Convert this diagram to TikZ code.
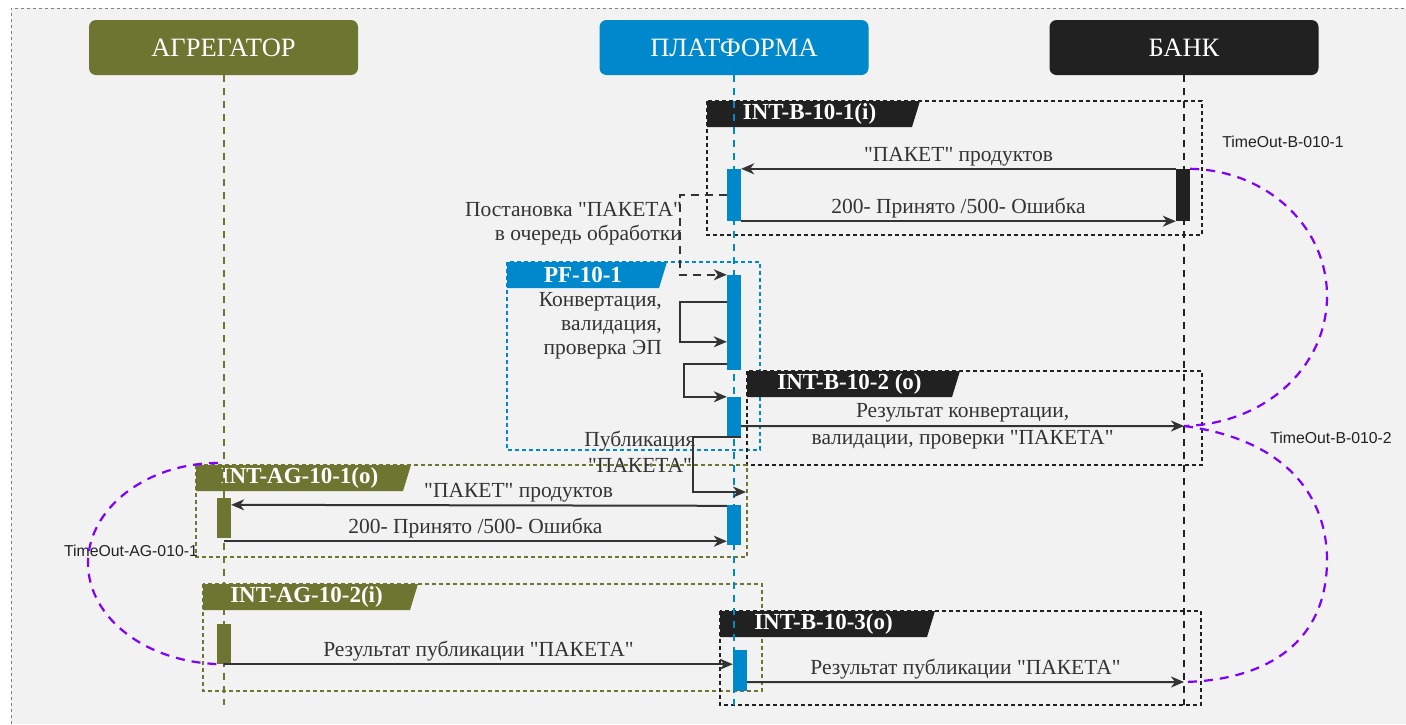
\documentclass[tikz,border=0pt]{standalone}
\usepackage{fontspec}
\setmainfont{Liberation Serif}
\setsansfont{Liberation Sans}
\usetikzlibrary{calc}
\usetikzlibrary{positioning}
\usetikzlibrary{arrows.meta}

\definecolor{aggc}{HTML}{6D7530}
\definecolor{platc}{HTML}{0088CC}
\definecolor{bankc}{HTML}{212121}
\definecolor{tmoc}{HTML}{7F00FF}
\definecolor{txtc}{HTML}{333333}
\definecolor{bgc}{HTML}{F2F2F2}
\newcommand{\qm}{\textquotedbl}

\tikzset{
  head/.style={rounded corners=7pt, minimum width=269pt, minimum height=55pt, text=white, font=\fontsize{26.5}{30}\selectfont},
  life/.style={line width=2pt, dash pattern=on 7pt off 6pt},
  act/.style={minimum width=14pt, inner sep=0pt},
  msg/.style={line width=2pt, draw=txtc, -{Stealth[length=13pt,width=11pt,inset=4pt]}},
  lbl/.style={text=txtc, font=\fontsize{21.5}{24}\selectfont, inner sep=0pt},
  frame/.style={line width=1.3pt, dash pattern=on 4pt off 3pt},
  tag/.style={text=white, font=\bfseries\fontsize{23}{26}\selectfont, inner sep=0pt},
  tmo/.style={draw=tmoc, line width=2.2pt, dash pattern=on 9pt off 7pt},
  tmolbl/.style={text=bankc, font=\sffamily\fontsize{15.8}{18}\selectfont, inner sep=0pt}
}

\begin{document}
\begin{tikzpicture}[x=1pt, y=-1pt]
  \useasboundingbox (0,0) rectangle (1406,724);
  \fill [white] (0,0) rectangle (1406,724);
  \fill [bgc] (11,8) rectangle (1406,724);
  \draw [gray, dashed] (11,724) -- (11,8) -- (1406,8);

  % fragments
  \foreach \xa/\ya/\xb/\yb/\tw/\cl/\txt/\nm in {
      707/101/1202/235/213/bankc/INT-B-10-1(i)/b1,
      507/262/760/450/160/platc/PF-10-1/pf,
      747/371/1202/465/213/bankc/INT-B-10-2 (o)/b2,
      196/465/747/557/215/aggc/INT-AG-10-1(o)/ag1,
      203/584/762/691/215/aggc/INT-AG-10-2(i)/ag2,
      720/611/1201/705/215/bankc/INT-B-10-3(o)/b3} {
    \draw [frame, \cl] (\xa,\ya) rectangle (\xb,\yb);
    \fill [\cl] (\xa,\ya) -- ++(\tw,0) -- ++(-8,26) -- (\xa,\ya+26) -- cycle;
    \node [tag] (tag\nm) at (\xa+\tw/2-4, \ya+13) {\txt};
  }

  % participants
  \node [head, fill=aggc] (agr) at (223.5,47.5) {АГРЕГАТОР};
  \node [head, fill=platc] (plat) at (734,47.5) {ПЛАТФОРМА};
  \node [head, fill=bankc] (bank) at (1184,47.5) {БАНК};
  \coordinate (bot) at (0,705);
  \draw [life, aggc] (agr.south) -- (agr.south |- bot);
  \draw [life, platc] (plat.south) -- (plat.south |- bot);
  \draw [life, bankc] (bank.south) -- (bank.south |- bot);

  % activations
  \node [act, fill=platc, minimum height=52pt] (pa1) at (734,195) {};
  \node [act, fill=bankc, minimum height=52pt] (ba1) at (1183,195) {};
  \node [act, fill=platc, minimum height=95pt] (pa2) at (734,322.5) {};
  \node [act, fill=platc, minimum height=40pt] (pa3) at (734,417) {};
  \node [act, fill=platc, minimum height=40pt] (pa4) at (734,525) {};
  \node [act, fill=aggc, minimum height=40pt] (aa1) at (224,518) {};
  \node [act, fill=aggc, minimum height=40pt] (aa2) at (224,644) {};
  \node [act, fill=platc, minimum height=41pt] (pa5) at (740,670.5) {};

  \coordinate (bt2) at (1184,426);
  \coordinate (bt3) at (1184,682);
  \coordinate (pub) at (746,492);
  \coordinate (ag0) at (218,463);

  % messages
  \draw [msg] (ba1.north west) -- node [lbl, midway, above=2pt] (m1) {\qm ПАКЕТ\qm{} продуктов} (pa1.north east);
  \draw [msg] (pa1.south east) -- node [lbl, midway, above=2pt] (m2) {200- Принято /500- Ошибка} (ba1.south west);
  \draw [msg, dash pattern=on 8pt off 6pt] (pa1.west) -- ++(-47,0) |- (pa2.north west);
  \node [lbl, anchor=east, align=right] (lq) at (682,224) {Постановка \qm ПАКЕТА\qm\\в очередь обработки};
  \draw [msg] ($(pa2.north west)+(0,27)$) -- ++(-47,0) |- ($(pa2.north west)+(0,67)$);
  \node [lbl, anchor=east, align=right] (lconv) at (662,326) {Конвертация,\\валидация,\\проверка ЭП};
  \draw [msg] ($(pa2.south west)+(0,-6)$) -- ++(-43,0) |- (pa3.north west);
  \draw [msg] ($(pa3.south east)+(0,-11)$) -- node [lbl, midway, align=center] (m3) {Результат конвертации,\\[3pt]валидации, проверки \qm ПАКЕТА\qm} (bt2);
  \draw [msg] (pa3.south east) -- ++(-48,0) |- (pub);
  \node [lbl, align=center, font=\fontsize{21.5}{26}\selectfont] (lpub) at (640,452) {Публикация\\\qm ПАКЕТА\qm};
  \draw [msg] ($(pa4.north west)+(0,1)$) -- node [lbl, pos=0.42, above=2pt] (m4) {\qm ПАКЕТ\qm{} продуктов} (aa1.east |- pa4.north west);
  \draw [msg] ($(aa1.south)+(0,3)$) -- node [lbl, midway, above=2pt] (m5) {200- Принято /500- Ошибка} ($(pa4.south west)+(0,-4)$);
  \draw [msg] (aa2.south) -- node [lbl, midway, above=2pt] (m6) {Результат публикации \qm ПАКЕТА\qm} (pa5.west |- aa2.south);
  \draw [msg] ($(pa5.south east)+(0,-9)$) -- node [lbl, midway, above=2pt] (m7) {Результат публикации \qm ПАКЕТА\qm} (bt3);

  % timeouts
  \node [tmolbl] (t1) at (1283,142) {TimeOut-B-010-1};
  \node [tmolbl] (t2) at (1331,438) {TimeOut-B-010-2};
  \node [tmolbl] (t3) at (131,551) {TimeOut-AG-010-1};
  \draw [tmo] (ba1.north east) .. controls (1266,170) and (1327,226) .. (1327,296) .. controls (1327,366) and (1266,424) .. (bt2);
  \draw [tmo] (bt2) .. controls (1290,440) and (1327,500) .. (1327,560) .. controls (1327,640) and (1270,680) .. (bt3);
  \draw [tmo] (ag0) .. controls (147,463) and (88,508) .. (88,563) .. controls (88,618) and (147,664) .. (aa2.south);
\end{tikzpicture}
\end{document}
